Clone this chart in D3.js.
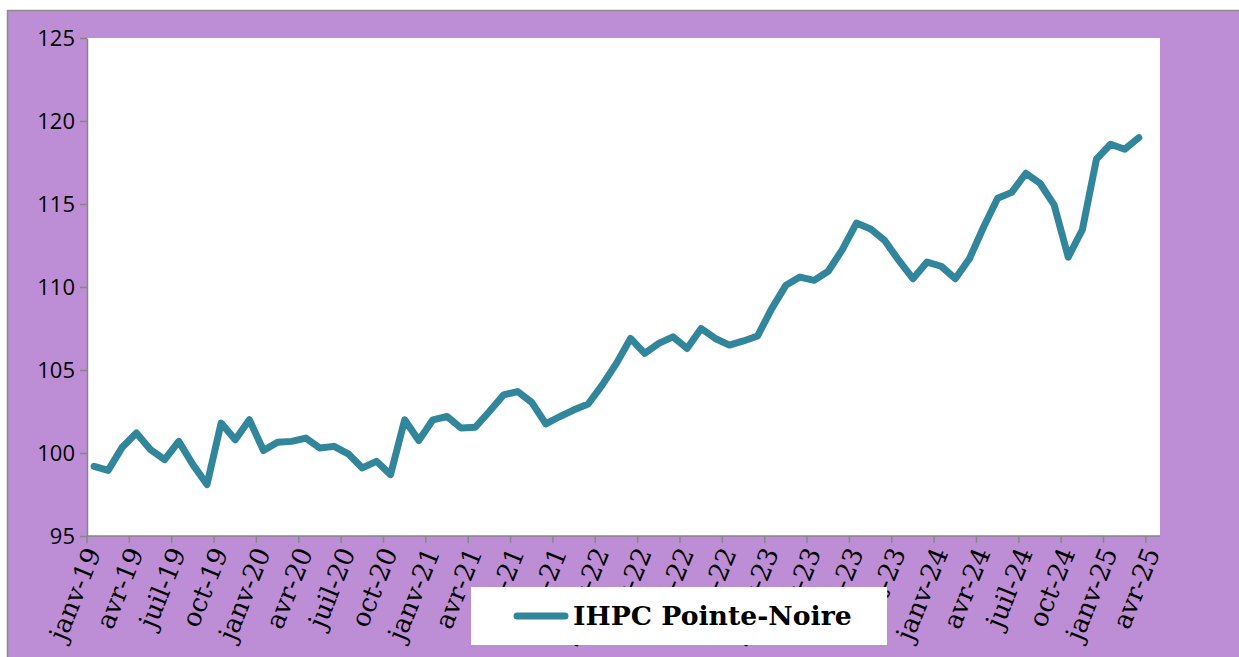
<!DOCTYPE html>
<html lang="fr">
<head>
    <meta charset="UTF-8">
    <title>IHPC Pointe-Noire</title>
    <style>
        body {
            margin: 0;
            background: #fff;
        }
        .axis path, .axis line {
            stroke: #868686;
            stroke-width: 1.5px;
        }
        .y-axis text {
            font-family: "Open Sans", sans-serif;
            font-size: 22px;
            fill: #000;
        }
        .x-label {
            font-family: "DejaVu Serif", serif;
            font-size: 26px;
            fill: #000;
        }
        .legend-text {
            font-family: "DejaVu Serif", serif;
            font-weight: bold;
            font-size: 26.7px;
        }
    </style>
</head>
<body>
    <svg id="chart" width="1239" height="657"></svg>

    <script src="https://d3js.org/d3.v7.min.js"></script>
    <script>
        // month abbreviations and years for the category axis
        const moisAbr = ["janv", "févr", "mars", "avr", "mai", "juin", "juil", "août", "sept", "oct", "nov", "déc"];
        const annees = ["19", "20", "21", "22", "23", "24", "25"];
        const dernierMois = "avr-25";

        // IHPC Pointe-Noire, janv-19 -> mars-25
        const ihpc = [
            99.2, 98.95, 100.35, 101.2, 100.2, 99.6, 100.7, 99.3, 98.1, 101.8, 100.8, 102.0,
            100.15, 100.65, 100.7, 100.9, 100.3, 100.4, 99.95, 99.1, 99.5, 98.7, 102.0, 100.75,
            102.0, 102.2, 101.5, 101.55, 102.5, 103.5, 103.7, 103.05, 101.75, 102.2, 102.6, 102.95,
            104.1, 105.4, 106.9, 106.0, 106.6, 107.0, 106.3, 107.5, 106.9, 106.5, 106.75, 107.05,
            108.7, 110.1, 110.6, 110.4, 110.95, 112.25, 113.85, 113.5, 112.8, 111.6, 110.5, 111.5,
            111.25, 110.5, 111.7, 113.6, 115.35, 115.7, 116.85, 116.25, 114.95, 111.8, 113.45, 117.7,
            118.6, 118.3, 119.0
        ];

        const yTicks = [95, 100, 105, 110, 115, 120, 125];
        const serieNom = "IHPC Pointe-Noire";

        const categories = [];
        for (const a of annees) {
            for (const m of moisAbr) {
                if (categories.length && categories[categories.length - 1] === dernierMois) break;
                categories.push(m + "-" + a);
            }
        }

        const svg = d3.select("#chart");
        const W = 1239, H = 657;
        const plot = {left: 87, right: 1160, top: 38, bottom: 536};

        // outer purple area with grey frame
        svg.append("rect")
            .attr("x", 7).attr("y", 10)
            .attr("width", W - 7).attr("height", H - 10)
            .attr("fill", "#bd8ed6");
        svg.append("path")
            .attr("d", `M7.5,${H} V10.5 H${W}`)
            .attr("fill", "none")
            .attr("stroke", "#8c8c8c")
            .attr("stroke-width", 1.5);

        // white plot area
        svg.append("rect")
            .attr("x", plot.left).attr("y", plot.top)
            .attr("width", plot.right - plot.left).attr("height", plot.bottom - plot.top)
            .attr("fill", "#fff");

        const x = d3.scaleBand().domain(categories).range([plot.left, plot.right]);
        const y = d3.scaleLinear().domain([95, 125]).range([plot.bottom, plot.top]);

        // y axis
        svg.append("g")
            .attr("class", "axis y-axis")
            .attr("transform", `translate(${plot.left},0)`)
            .call(d3.axisLeft(y).tickValues(yTicks).tickSize(7).tickPadding(5).tickSizeOuter(0));

        // x axis line + tick marks on category boundaries every 3 months
        const xAxis = svg.append("g").attr("class", "axis x-axis");
        xAxis.append("line")
            .attr("x1", plot.left).attr("x2", plot.right)
            .attr("y1", plot.bottom).attr("y2", plot.bottom);
        const trimestres = categories.filter((d, i) => i % 3 === 0);
        xAxis.selectAll(".tick")
            .data(trimestres)
            .join("line")
            .attr("class", "tick")
            .attr("x1", d => x(d)).attr("x2", d => x(d))
            .attr("y1", plot.bottom).attr("y2", plot.bottom + 7);

        xAxis.selectAll(".x-label")
            .data(trimestres)
            .join("text")
            .attr("class", "x-label")
            .attr("text-anchor", "end")
            .attr("dy", "0.35em")
            .attr("transform", d => `translate(${x(d) + x.bandwidth() / 2 - 1},${plot.bottom + 13}) rotate(-68)`)
            .text(d => d);

        // the series
        const line = d3.line()
            .x((d, i) => x(categories[i]) + x.bandwidth() / 2)
            .y(d => y(d));

        svg.append("path")
            .datum(ihpc)
            .attr("d", line)
            .attr("fill", "none")
            .attr("stroke", "#31869b")
            .attr("stroke-width", 7)
            .attr("stroke-linejoin", "round")
            .attr("stroke-linecap", "round");

        // legend box
        const leg = svg.append("g").attr("transform", "translate(471,587)");
        leg.append("rect")
            .attr("width", 416).attr("height", 58)
            .attr("fill", "#fff");
        leg.append("line")
            .attr("x1", 46).attr("x2", 94)
            .attr("y1", 29).attr("y2", 29)
            .attr("stroke", "#31869b")
            .attr("stroke-width", 7)
            .attr("stroke-linecap", "round");
        leg.append("text")
            .attr("class", "legend-text")
            .attr("x", 102).attr("y", 29)
            .attr("dy", "0.35em")
            .text(serieNom);
    </script>
</body>
</html>
